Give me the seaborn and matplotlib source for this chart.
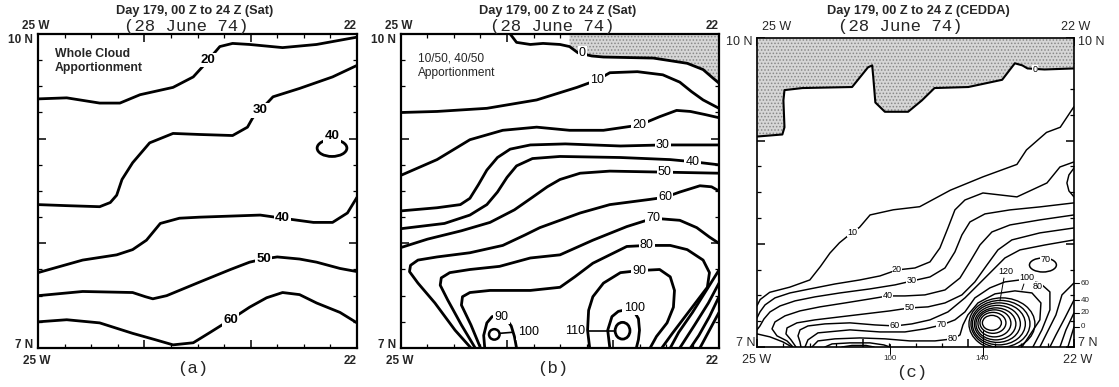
import matplotlib
matplotlib.use("Agg")
import matplotlib.pyplot as plt
from matplotlib.patches import Ellipse, Polygon
from matplotlib.ticker import MultipleLocator
import seaborn as sns

sns.set_theme(style="white")
plt.rcParams['font.family'] = ['Liberation Sans', 'DejaVu Sans']
plt.rcParams['hatch.linewidth'] = 0.7
plt.rcParams['hatch.color'] = '#888888'

W, H = 1119, 387

# ---------------- panel (a) : contour lines (lon, lat) ----------------
a_20 = [(-25.0, 9.38), (-24.73, 9.39), (-24.42, 9.34), (-24.23, 9.34), (-24.04, 9.42), (-23.73, 9.49),
        (-23.54, 9.59), (-23.45, 9.69), (-23.40, 9.75), (-23.29, 9.88), (-23.17, 9.91), (-23.01, 9.90),
        (-22.70, 9.87), (-22.38, 9.90), (-22.0, 9.97)]
a_30 = [(-25.0, 8.37), (-24.73, 8.36), (-24.42, 8.35), (-24.32, 8.39), (-24.26, 8.46), (-24.21, 8.61),
        (-24.11, 8.77), (-23.95, 8.96), (-23.73, 9.05), (-23.48, 9.04), (-23.17, 9.03), (-23.03, 9.11),
        (-22.98, 9.20), (-22.91, 9.27), (-22.79, 9.40), (-22.54, 9.48), (-22.23, 9.59), (-22.0, 9.70)]
a_40 = [(-25.0, 7.72), (-24.58, 7.84), (-24.26, 7.89), (-24.11, 7.94), (-23.98, 8.03), (-23.85, 8.19),
        (-23.67, 8.24), (-23.48, 8.25), (-22.91, 8.27), (-22.70, 8.24), (-22.41, 8.20), (-22.23, 8.20),
        (-22.09, 8.29), (-22.0, 8.44)]
a_50 = [(-25.0, 7.50), (-24.58, 7.54), (-24.11, 7.53), (-23.99, 7.49), (-23.92, 7.47), (-23.79, 7.50),
        (-23.48, 7.63), (-23.19, 7.75), (-23.01, 7.82), (-22.88, 7.85), (-22.75, 7.87), (-22.54, 7.85),
        (-22.38, 7.82), (-22.16, 7.76), (-22.0, 7.73)]
a_60 = [(-25.0, 7.25), (-24.73, 7.27), (-24.42, 7.24), (-24.11, 7.14), (-23.90, 7.08), (-23.73, 7.03),
        (-23.54, 7.05), (-23.38, 7.15), (-23.27, 7.22), (-23.19, 7.27), (-23.10, 7.33), (-23.01, 7.39),
        (-22.85, 7.48), (-22.70, 7.53), (-22.54, 7.51), (-22.38, 7.43), (-22.16, 7.34), (-22.0, 7.24)]
a_loop40 = [-22.235, 8.91, 0.28, 0.16]          # centre lon, centre lat, width, height
a_label_text = ["20", "30", "40", "50", "60", "40"]
a_label_pos = [(-23.40, 9.75), (-22.91, 9.27), (-22.70, 8.24), (-22.88, 7.85), (-23.19, 7.27), (-22.235, 9.03)]

# ---------------- panel (b) ----------------
b_0 = [(-23.97, 10.0), (-23.91, 9.92), (-23.78, 9.90), (-23.66, 9.91), (-23.50, 9.90), (-23.41, 9.88),
       (-23.33, 9.82), (-23.20, 9.79), (-23.09, 9.78), (-22.62, 9.77), (-22.30, 9.72), (-22.15, 9.66),
       (-22.07, 9.59), (-22.0, 9.53)]
b_10 = [(-25.0, 9.25), (-24.66, 9.26), (-24.19, 9.29), (-23.72, 9.37), (-23.34, 9.49), (-23.15, 9.56),
        (-23.03, 9.63), (-22.77, 9.64), (-22.53, 9.61), (-22.37, 9.54), (-22.26, 9.45), (-22.15, 9.37),
        (-22.0, 9.29)]
b_20 = [(-25.0, 8.65), (-24.66, 8.80), (-24.35, 8.99), (-24.04, 9.08), (-23.72, 9.11), (-23.41, 9.08),
        (-23.09, 9.08), (-22.75, 9.13), (-22.56, 9.21), (-22.40, 9.27), (-22.27, 9.26), (-22.13, 9.23),
        (-22.0, 9.20)]
b_30 = [(-25.0, 8.31), (-24.66, 8.34), (-24.44, 8.37), (-24.35, 8.43), (-24.27, 8.56), (-24.19, 8.70),
        (-24.09, 8.82), (-23.97, 8.90), (-23.78, 8.94), (-23.45, 8.95), (-22.93, 8.93), (-22.53, 8.94),
        (-22.0, 8.94)]
b_40 = [(-25.0, 8.14), (-24.59, 8.19), (-24.35, 8.27), (-24.19, 8.37), (-24.09, 8.49), (-24.0, 8.63),
        (-23.91, 8.74), (-23.76, 8.81), (-23.5, 8.83), (-22.93, 8.82), (-22.46, 8.80), (-22.25, 8.78),
        (-22.0, 8.75)]
b_50 = [(-25.0, 7.96), (-24.75, 8.04), (-24.43, 8.12), (-24.16, 8.20), (-23.93, 8.32), (-23.76, 8.44),
        (-23.62, 8.54), (-23.5, 8.61), (-23.31, 8.67), (-23.03, 8.69), (-22.51, 8.68), (-22.0, 8.67)]
b_60 = [(-24.34, 7.0), (-24.49, 7.17), (-24.68, 7.43), (-24.84, 7.62), (-24.92, 7.73), (-24.91, 7.79),
        (-24.84, 7.84), (-24.66, 7.87), (-24.35, 7.91), (-24.04, 7.98), (-23.83, 8.08), (-23.69, 8.15),
        (-23.5, 8.22), (-23.31, 8.29), (-23.03, 8.37), (-22.65, 8.42), (-22.51, 8.44), (-22.37, 8.49),
        (-22.18, 8.55), (-22.07, 8.54), (-22.0, 8.50)]
b_70 = [(-24.30, 7.0), (-24.43, 7.22), (-24.56, 7.46), (-24.63, 7.60), (-24.62, 7.67), (-24.54, 7.72),
        (-24.35, 7.75), (-24.07, 7.78), (-23.78, 7.86), (-23.5, 7.89), (-23.19, 8.03), (-22.87, 8.16),
        (-22.62, 8.24), (-22.37, 8.22), (-22.21, 8.15), (-22.09, 8.06), (-22.0, 8.0)]
b_80 = [(-24.25, 7.0), (-24.34, 7.22), (-24.43, 7.41), (-24.42, 7.49), (-24.35, 7.53), (-24.16, 7.55),
        (-23.78, 7.55), (-23.5, 7.58), (-23.36, 7.68), (-23.19, 7.81), (-22.87, 7.97), (-22.68, 7.98),
        (-22.46, 7.98), (-22.30, 7.94), (-22.15, 7.84), (-22.09, 7.72), (-22.11, 7.58), (-22.20, 7.46),
        (-22.32, 7.30), (-22.44, 7.14), (-22.54, 7.0)]
b_90 = [(-23.22, 7.0), (-23.24, 7.17), (-23.23, 7.36), (-23.19, 7.49), (-23.09, 7.62), (-22.93, 7.72),
        (-22.75, 7.74), (-22.56, 7.75), (-22.46, 7.68), (-22.42, 7.55), (-22.43, 7.39), (-22.49, 7.24),
        (-22.59, 7.11), (-22.65, 7.0)]
b_100 = [(-23.03, 7.0), (-23.05, 7.17), (-23.01, 7.30), (-22.95, 7.35), (-22.86, 7.37), (-22.79, 7.33),
         (-22.76, 7.28), (-22.75, 7.17), (-22.76, 7.08), (-22.78, 7.0)]
b_90w = [(-24.21, 7.0), (-24.22, 7.12), (-24.19, 7.24), (-24.14, 7.30), (-24.06, 7.31), (-24.0, 7.27),
         (-23.96, 7.21), (-23.93, 7.11), (-23.91, 7.0)]
b_f70 = [(-22.0, 7.745), (-22.12, 7.55), (-22.25, 7.34), (-22.38, 7.15), (-22.46, 7.0)]
b_f60 = [(-22.0, 7.62), (-22.10, 7.43), (-22.23, 7.22), (-22.37, 7.0)]
b_f50 = [(-22.0, 7.49), (-22.09, 7.30), (-22.19, 7.12), (-22.27, 7.0)]
b_f40 = [(-22.0, 7.34), (-22.09, 7.17), (-22.18, 7.0)]
b_leader110 = [(-23.23, 7.165), (-22.98, 7.165)]
b_leader100w = [(-24.07, 7.14), (-23.95, 7.15)]
b_loop110 = [-22.91, 7.165, 0.14, 0.16]
b_loop100w = [-24.12, 7.13, 0.10, 0.10]
b_label_text = ["0", "10", "20", "30", "40", "50", "60", "70", "80", "90", "100", "110", "90", "100"]
b_label_pos = [(-23.29, 9.82), (-23.15, 9.56), (-22.75, 9.13), (-22.53, 8.94), (-22.25, 8.78),
               (-22.51, 8.68), (-22.51, 8.44), (-22.62, 8.24), (-22.68, 7.98), (-22.75, 7.74),
               (-22.80, 7.38), (-23.36, 7.165), (-24.05, 7.30), (-23.80, 7.15)]

# ---------------- panel (c) ----------------
c_0 = [(-25.0, 9.04), (-24.76, 9.06), (-24.74, 9.13), (-24.75, 9.39), (-24.74, 9.49), (-24.57, 9.51),
       (-24.10, 9.52), (-23.95, 9.71), (-23.91, 9.73), (-23.90, 9.62), (-23.88, 9.37), (-23.79, 9.28),
       (-23.57, 9.28), (-23.44, 9.39), (-23.32, 9.51), (-23.00, 9.52), (-22.68, 9.59), (-22.56, 9.75),
       (-22.49, 9.73), (-22.44, 9.70), (-22.28, 9.69), (-22.0, 9.70)]
c_10 = [(-22.0, 9.33), (-22.13, 9.13), (-22.26, 9.08), (-22.45, 8.91), (-22.54, 8.77), (-22.86, 8.65),
        (-23.17, 8.52), (-23.46, 8.36), (-23.71, 8.33), (-23.93, 8.28), (-24.03, 8.16), (-24.10, 8.11),
        (-24.22, 8.01), (-24.31, 7.91), (-24.40, 7.78), (-24.50, 7.65), (-24.69, 7.58), (-24.88, 7.53),
        (-24.97, 7.46), (-25.0, 7.40)]
c_20 = [(-22.0, 8.794), (-22.133, 8.745), (-22.256, 8.590), (-22.540, 8.455), (-22.862, 8.493),
        (-23.032, 8.425), (-23.127, 8.329), (-23.193, 8.154), (-23.269, 7.960), (-23.363, 7.825),
        (-23.505, 7.766), (-23.675, 7.747), (-23.836, 7.689), (-24.026, 7.650), (-24.262, 7.611),
        (-24.499, 7.563), (-24.688, 7.524), (-24.830, 7.476), (-24.924, 7.408), (-24.972, 7.340),
        (-25.0, 7.282)]
c_30 = [(-22.0, 8.397), (-22.323, 8.358), (-22.606, 8.329), (-22.843, 8.290), (-22.985, 8.212),
        (-23.061, 8.086), (-23.127, 7.922), (-23.221, 7.766), (-23.363, 7.679), (-23.534, 7.640),
        (-23.694, 7.602), (-23.931, 7.563), (-24.215, 7.524), (-24.451, 7.486), (-24.640, 7.447),
        (-24.782, 7.398), (-24.877, 7.340), (-24.934, 7.272), (-24.972, 7.204), (-25.0, 7.166)]
c_30b = [(-25.0, 7.127), (-24.877, 7.098), (-24.754, 7.049), (-24.669, 7.0)]
c_40 = [(-22.0, 8.280), (-22.323, 8.232), (-22.606, 8.183), (-22.777, 8.115), (-22.890, 7.989),
        (-22.985, 7.825), (-23.079, 7.669), (-23.221, 7.553), (-23.411, 7.505), (-23.600, 7.495),
        (-23.761, 7.495), (-23.931, 7.466), (-24.167, 7.427), (-24.404, 7.389), (-24.593, 7.350),
        (-24.735, 7.302), (-24.830, 7.243), (-24.858, 7.176), (-24.811, 7.108), (-24.716, 7.059),
        (-24.659, 7.0)]
c_50 = [(-22.0, 8.154), (-22.323, 8.106), (-22.588, 8.038), (-22.720, 7.941), (-22.824, 7.795),
        (-22.938, 7.631), (-23.061, 7.505), (-23.221, 7.427), (-23.382, 7.389), (-23.553, 7.379),
        (-23.742, 7.350), (-23.978, 7.321), (-24.215, 7.292), (-24.451, 7.263), (-24.622, 7.234),
        (-24.716, 7.185), (-24.726, 7.127), (-24.678, 7.069), (-24.631, 7.0)]
c_60 = [(-22.0, 8.038), (-22.275, 7.989), (-22.512, 7.941), (-22.654, 7.863), (-22.767, 7.747),
        (-22.890, 7.621), (-23.032, 7.476), (-23.193, 7.340), (-23.363, 7.263), (-23.534, 7.224),
        (-23.694, 7.204), (-23.884, 7.214), (-24.120, 7.234), (-24.357, 7.224), (-24.518, 7.204),
        (-24.593, 7.166), (-24.612, 7.108), (-24.593, 7.049), (-24.584, 7.0)]
c_70 = [(-24.546, 7.0), (-24.518, 7.069), (-24.423, 7.137), (-24.120, 7.166), (-23.836, 7.146),
        (-23.600, 7.146), (-23.411, 7.176), (-23.250, 7.214), (-23.127, 7.263), (-23.032, 7.340),
        (-22.938, 7.476), (-22.796, 7.573), (-22.654, 7.631), (-22.512, 7.650), (-22.323, 7.621),
        (-22.228, 7.534), (-22.228, 7.360), (-22.304, 7.166), (-22.389, 7.0)]
c_80 = [(-24.480, 7.0), (-24.423, 7.059), (-24.262, 7.079), (-24.026, 7.088), (-23.789, 7.079),
        (-23.553, 7.059), (-23.316, 7.059), (-23.146, 7.079), (-23.079, 7.117), (-23.051, 7.214),
        (-23.004, 7.311), (-22.909, 7.427), (-22.748, 7.515), (-22.559, 7.544), (-22.398, 7.524),
        (-22.313, 7.427), (-22.323, 7.263), (-22.417, 7.117), (-22.493, 7.0)]
c_90 = [(-24.357, 7.0), (-24.290, 7.030), (-24.120, 7.040), (-23.931, 7.040), (-23.799, 7.020), (-23.742, 7.0)]
c_100 = [(-24.196, 7.0), (-24.101, 7.015), (-23.969, 7.015), (-23.893, 7.0)]
c_f60 = [(-22.0, 7.621), (-22.114, 7.505), (-22.171, 7.311), (-22.266, 7.117), (-22.323, 7.0)]
c_f40 = [(-22.0, 7.456), (-22.086, 7.282), (-22.171, 7.117), (-22.228, 7.0)]
c_f20 = [(-22.0, 7.331), (-22.076, 7.166), (-22.133, 7.0)]
c_f0 = [(-22.0, 7.195), (-22.058, 7.0)]
c_arc = [(-22.0, 8.735), (-22.048, 8.668), (-22.067, 8.590), (-22.048, 8.513), (-22.0, 8.455)]
c_ring_lon = [-22.777, -22.767, -22.753, -22.739, -22.725, -22.711, -22.696, -22.682]
c_ring_lat = [7.234, 7.234, 7.229, 7.224, 7.224, 7.224, 7.224, 7.224]
c_ring_w = [0.180, 0.246, 0.312, 0.378, 0.435, 0.501, 0.558, 0.624]
c_ring_h = [0.145, 0.203, 0.262, 0.310, 0.359, 0.407, 0.455, 0.504]
c_loop70 = [-22.294, 7.795, 0.255, 0.136]
c_lead120 = [(-22.663, 7.669), (-22.701, 7.446)]
c_lead100 = [(-22.474, 7.611), (-22.493, 7.553)]
c_lead140 = [(-22.862, 7.166), (-22.862, 6.914)]
c_lead100b = [(-23.742, 7.03), (-23.742, 6.933)]
c_edge_lat = [7.621, 7.456, 7.331, 7.195]
c_edge_text = ["60", "40", "20", "0"]
c_label_text = ["0", "10", "20", "30", "40", "50", "60", "70", "80", "70", "120", "100", "80"]
c_label_pos = [(-22.37, 9.685), (-24.10, 8.11), (-23.675, 7.747), (-23.534, 7.640), (-23.761, 7.495),
               (-23.553, 7.379), (-23.694, 7.204), (-23.250, 7.214), (-23.146, 7.079), (-22.266, 7.844),
               (-22.645, 7.735), (-22.446, 7.669), (-22.342, 7.585)]


def make_ax(l, r, t, b):
    return fig.add_axes([l / W, 1 - b / H, (r - l) / W, (b - t) / H])


def finish(ax, lw):
    ax.set_xlim(-25, -22)
    ax.set_ylim(7, 10)
    ax.xaxis.set_major_locator(MultipleLocator(1))
    ax.yaxis.set_major_locator(MultipleLocator(1))
    ax.xaxis.set_minor_locator(MultipleLocator(0.25))
    ax.yaxis.set_minor_locator(MultipleLocator(0.25))
    ax.tick_params(which='major', direction='in', length=5.5, width=1.1, colors='black',
                   top=True, right=True, bottom=True, left=True,
                   labelbottom=False, labelleft=False)
    ax.tick_params(which='minor', direction='in', length=3, width=0.9, colors='black',
                   top=True, right=True, bottom=True, left=True)
    ax.set_xlabel('')
    ax.set_ylabel('')
    for s in ax.spines.values():
        s.set_color('black')
        s.set_linewidth(lw)
        s.set_visible(True)


def draw(ax, pts, lw, clip=True):
    xs = [p[0] for p in pts]
    ys = [p[1] for p in pts]
    sns.lineplot(x=xs, y=ys, sort=False, estimator=None, color='black', linewidth=lw,
                 ax=ax, solid_joinstyle='round', solid_capstyle='round', zorder=3, clip_on=clip)


def label(ax, pos, s, fs, weight='normal', pad=0.1):
    ax.text(pos[0], pos[1], s, ha='center', va='center', fontsize=fs, fontweight=weight,
            color='black', zorder=6,
            bbox=dict(boxstyle='square,pad=%g' % pad, fc='white', ec='none'))


def ellipse(ax, e, lw):
    ax.add_patch(Ellipse((e[0], e[1]), e[2], e[3], fill=False, ec='black', lw=lw, zorder=3))


fig = plt.figure(figsize=(W / 100, H / 100), dpi=100)
mono = ['Liberation Mono', 'DejaVu Sans Mono']

# ---- panel a
axa = make_ax(38, 357, 34, 348)
for line in [a_20, a_30, a_40, a_50, a_60]:
    draw(axa, line, 2.0)
ellipse(axa, a_loop40, 2.0)
for t, p in zip(a_label_text, a_label_pos):
    label(axa, p, t, 9.5, 'bold')
finish(axa, 1.6)
axa.text(0.053, 0.955, "Whole Cloud\nApportionment", transform=axa.transAxes, ha='left', va='top',
         fontsize=8.8, fontweight='bold', linespacing=1.2)

# ---- panel b
axb = make_ax(401, 719, 34, 348)
shade_b = [(-23.41, 10.0)] + b_0[5:] + [(-22.0, 10.0)]
axb.add_patch(Polygon(shade_b, closed=True, fc='#d6d6d6', ec='#888888', hatch='.....', lw=0, zorder=1))
for line in [b_0, b_10, b_20, b_30, b_40, b_50, b_60, b_70, b_80, b_90, b_100, b_90w,
             b_f70, b_f60, b_f50, b_f40]:
    draw(axb, line, 2.0)
draw(axb, b_leader110, 1.2)
draw(axb, b_leader100w, 1.2)
ellipse(axb, b_loop110, 2.0)
ellipse(axb, b_loop100w, 1.8)
for t, p in zip(b_label_text, b_label_pos):
    label(axb, p, t, 9.0)
finish(axb, 1.6)
axb.text(0.053, 0.94, "10/50, 40/50\nApportionment", transform=axb.transAxes, ha='left', va='top',
         fontsize=8.6, linespacing=1.25)

# ---- panel c
axc = make_ax(757, 1074, 37.5, 347)
shade_c = c_0 + [(-22.0, 10.0), (-25.0, 10.0)]
axc.add_patch(Polygon(shade_c, closed=True, fc='#d6d6d6', ec='#888888', hatch='.....', lw=0, zorder=1))
draw(axc, c_0, 1.5)
for line in [c_10, c_20, c_30, c_30b, c_40, c_50, c_60, c_70, c_80, c_90, c_100,
             c_f60, c_f40, c_f20, c_f0, c_arc]:
    draw(axc, line, 1.05)
for i in range(len(c_ring_lon)):
    ellipse(axc, [c_ring_lon[i], c_ring_lat[i], c_ring_w[i], c_ring_h[i]], 1.0)
ellipse(axc, c_loop70, 1.1)
for line in [c_lead120, c_lead100]:
    draw(axc, line, 0.7)
for line in [c_lead140, c_lead100b]:
    draw(axc, line, 0.7, clip=False)
for la in c_edge_lat:
    draw(axc, [(-22.0, la), (-21.955, la)], 0.8, clip=False)
for t, p in zip(c_label_text, c_label_pos):
    label(axc, p, t, 6.5, pad=0.05)
finish(axc, 1.2)


def ftext(x, y, s, ha='center', va='center', fs=8, weight='bold', family=None):
    kw = {}
    if family:
        kw['family'] = family
    fig.text(x / W, 1 - y / H, s, ha=ha, va=va, fontsize=fs, fontweight=weight, **kw)


for cx, ttl in [(195, "Day 179, 00 Z to 24 Z (Sat)"), (558, "Day 179, 00 Z to 24 Z (Sat)"),
                (918, "Day 179, 00 Z to 24 Z (CEDDA)")]:
    ftext(cx, 11, ttl, fs=9.2, weight='bold')
for cx in [186, 552, 900]:
    ftext(cx, 27, "(28 June 74)", fs=12.5, weight='normal', family=mono)
for cx, y, s in [(193, 369, "(a)"), (553, 369, "(b)"), (912, 373, "(c)")]:
    ftext(cx, y, s, fs=12.5, weight='normal', family=mono)

for l, r in [(38, 357), (401, 719)]:
    ftext(l - 16, 26, "25 W", ha='left', fs=8.5)
    ftext(r, 26, "22", ha='right', fs=8.5)
    ftext(l - 5, 40, "10 N", ha='right', fs=8.5)
    ftext(l - 5, 345, "7 N", ha='right', fs=8.5)
    ftext(l - 15, 361, "25 W", ha='left', fs=8.5)
    ftext(r, 361, "22", ha='right', fs=8.5)
ftext(762, 27, "25 W", ha='left', fs=9, weight='normal')
ftext(1090, 27, "22 W", ha='right', fs=9, weight='normal')
ftext(753, 42, "10 N", ha='right', fs=9, weight='normal')
ftext(1078, 42, "10 N", ha='left', fs=9, weight='normal')
ftext(755, 343, "7 N", ha='right', fs=9, weight='normal')
ftext(1078, 343, "7 N", ha='left', fs=9, weight='normal')
ftext(742, 360, "25 W", ha='left', fs=9, weight='normal')
ftext(1092, 360, "22 W", ha='right', fs=9, weight='normal')
ftext(890, 359, "100", fs=5.8, weight='normal')
ftext(982, 359, "140", fs=5.8, weight='normal')
for la, s in zip(c_edge_lat, c_edge_text):
    ypx = 37.5 + (10 - la) * 103.2
    ftext(1081, ypx, s, ha='left', fs=5.8, weight='normal')

fig.savefig("out.png", dpi=100)
